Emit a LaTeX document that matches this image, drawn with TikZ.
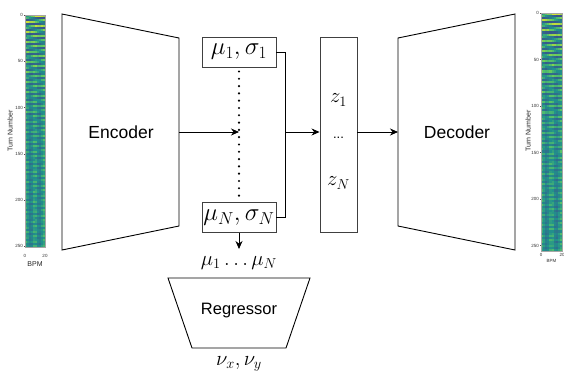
\documentclass[tikz,border=0pt]{standalone}
\usepackage{fontspec}
\newfontfamily\labelfont{Liberation Sans}
\usetikzlibrary{arrows.meta,calc}

% viridis-like palette for the turn-by-BPM maps
\definecolor{vdark}{RGB}{58,82,140}
\definecolor{vteal}{RGB}{33,145,140}
\definecolor{vgreen}{RGB}{94,200,98}
\definecolor{vyellow}{RGB}{215,226,52}

% set colour cellc from a value in [0,1]
\newcommand\setcellcolor[1]{%
  \pgfmathsetmacro\cv{max(0,min(1,#1))}%
  \ifdim\cv pt<0.5pt
    \pgfmathsetmacro\cp{\cv*200}%
    \colorlet{cellc}{vteal!\cp!vdark}%
  \else\ifdim\cv pt<0.8pt
    \pgfmathsetmacro\cp{(\cv-0.5)/0.3*100}%
    \colorlet{cellc}{vgreen!\cp!vteal}%
  \else
    \pgfmathsetmacro\cp{(\cv-0.8)/0.2*100}%
    \colorlet{cellc}{vyellow!\cp!vgreen}%
  \fi\fi}

% draw a map with corner (#1,#2), width #3, height #4
\newcommand\turnmap[4]{%
  \pgfmathsetmacro\cw{#3/10}%
  \pgfmathsetmacro\rh{#4/116}%
  \foreach \r in {0,...,115}{%
    \foreach \c in {0,...,9}{%
      \pgfmathsetmacro\dec{exp(-\r/45)}%
      \pgfmathsetmacro\ph{mod(\r,5)*144+\c*14}%
      \setcellcolor{0.47+0.45*\dec*sin(\ph)+0.07*sin(\ph)+0.15*(1-\dec)*cos(\c*80)+0.10*(rnd-0.5)}%
      \fill[cellc] ({#1+\c*\cw},{#2+\r*\rh}) rectangle ({#1+(\c+1)*\cw+0.3},{#2+(\r+1)*\rh+0.3});
    }%
  }%
  \draw[gray!70,line width=0.3pt] (#1,#2) rectangle ({#1+#3},{#2+#4});
}

\tikzset{
  block/.style={draw=black,line width=0.9pt},
  mubox/.style={draw=black!75,line width=0.9pt,fill=white,minimum width=74pt,minimum height=30pt,inner sep=0pt,font=\fontsize{23}{26}\selectfont},
  zbox/.style={draw=black!75,line width=0.9pt,minimum width=37pt,minimum height=195pt,inner sep=0pt},
  conn/.style={line width=0.8pt,-{Stealth[length=8pt,width=7pt]}},
  wire/.style={line width=0.8pt},
  bigtext/.style={font=\labelfont\fontsize{17.5}{20}\selectfont},
  mathtext/.style={font=\fontsize{22}{25}\selectfont},
  ticklab/.style={font=\labelfont\fontsize{4.5}{5}\selectfont,text=black!80,inner sep=0.5pt},
  axlab/.style={font=\labelfont\fontsize{7}{8}\selectfont,text=black!85,inner sep=0pt},
}

\begin{document}
\begin{tikzpicture}[x=1pt,y=-1pt]
\useasboundingbox (0,0) rectangle (564,376);
\fill[white] (0,0) rectangle (564,376);
\pgfmathsetseed{7}

% input map
\turnmap{25}{15}{20}{232}
\foreach \v in {0,50,100,150,200,250}{
  \draw[black!70,line width=0.3pt] (25,{15+\v*0.925}) -- (23.5,{15+\v*0.925});
  \node[ticklab,anchor=east] (inl\v) at (23.5,{15+\v*0.925}) {\v};
}
\node[ticklab] (inx0) at (25,256) {0};
\node[ticklab] (inx20) at (45,256) {20};
\node[axlab] (inbpm) at (35,264) {BPM};
\node[axlab,rotate=90] (inturn) at (10,131) {Turn Number};

% output map
\turnmap{541}{13}{21}{238}
\foreach \v in {0,50,100,150,200,250}{
  \draw[black!70,line width=0.3pt] (541,{13+\v*0.93}) -- (539.5,{13+\v*0.93});
  \node[ticklab,anchor=east] (outl\v) at (539.5,{13+\v*0.93}) {\v};
}
\node[ticklab] (outx0) at (541,255) {0};
\node[ticklab] (outx20) at (562,255) {20};
\node[ticklab] (outbpm) at (551.5,261) {BPM};
\node[axlab,rotate=90] (outturn) at (528,131) {Turn Number};

% encoder
\coordinate (e1) at (62,14);
\coordinate (e2) at (179,38);
\coordinate (e3) at (179,226);
\coordinate (e4) at (62,250);
\draw[block] (e1) -- (e2) -- (e3) -- (e4) -- cycle;
\node[bigtext] (enc) at (121,132) {Encoder};
\coordinate (encout) at (179,132);

% decoder
\coordinate (d1) at (398,38);
\coordinate (d2) at (515,14);
\coordinate (d3) at (515,250);
\coordinate (d4) at (398,226);
\draw[block] (d1) -- (d2) -- (d3) -- (d4) -- cycle;
\node[bigtext] (dec) at (457,132) {Decoder};
\coordinate (decin) at (398,132);

% latent parameters
\node[mubox] (m1) at (239,52) {$\mu_1,\sigma_1$};
\node[mubox] (mN) at (239,217.5) {$\mu_N,\sigma_N$};
\draw[line width=2.4pt,dash pattern=on 0pt off 7.3pt,line cap=round] ($(m1.south)+(0,4)$) -- ($(mN.north)+(0,-3)$);
\coordinate (mid) at (239,132);
\draw[conn] (encout) -- (mid);

% collecting wire
\coordinate (c1) at (285,52);
\coordinate (c2) at (285,217.5);
\coordinate (cm) at (285,132);
\draw[wire] (m1.east) -- (c1) -- (c2) -- (mN.east);

% latent vector
\node[zbox] (z) at (338.5,134.5) {};
\node[mathtext] (z1) at (338.5,100) {$z_1$};
\node[font=\labelfont\fontsize{13}{15}\selectfont] (zd) at (338.5,138) {...};
\node[mathtext] (zN) at (338.5,183) {$z_N$};
\draw[conn] (cm) -- (z.west |- cm);
\draw[conn] (z.east |- decin) -- (decin);

% regressor branch
\node[mathtext] (mus) at (239,263) {$\mu_1\ldots\mu_N$};
\draw[conn] (mN.south) -- (239,249);
\coordinate (r1) at (168,278);
\coordinate (r2) at (310,278);
\coordinate (r3) at (286,348);
\coordinate (r4) at (192,348);
\draw[block] (r1) -- (r2) -- (r3) -- (r4) -- cycle;
\node[font=\labelfont\fontsize{16.5}{19}\selectfont] (reg) at (239,311) {Regressor};
\node[mathtext] (nu) at (239,364) {$\nu_x,\nu_y$};
\end{tikzpicture}
\end{document}
